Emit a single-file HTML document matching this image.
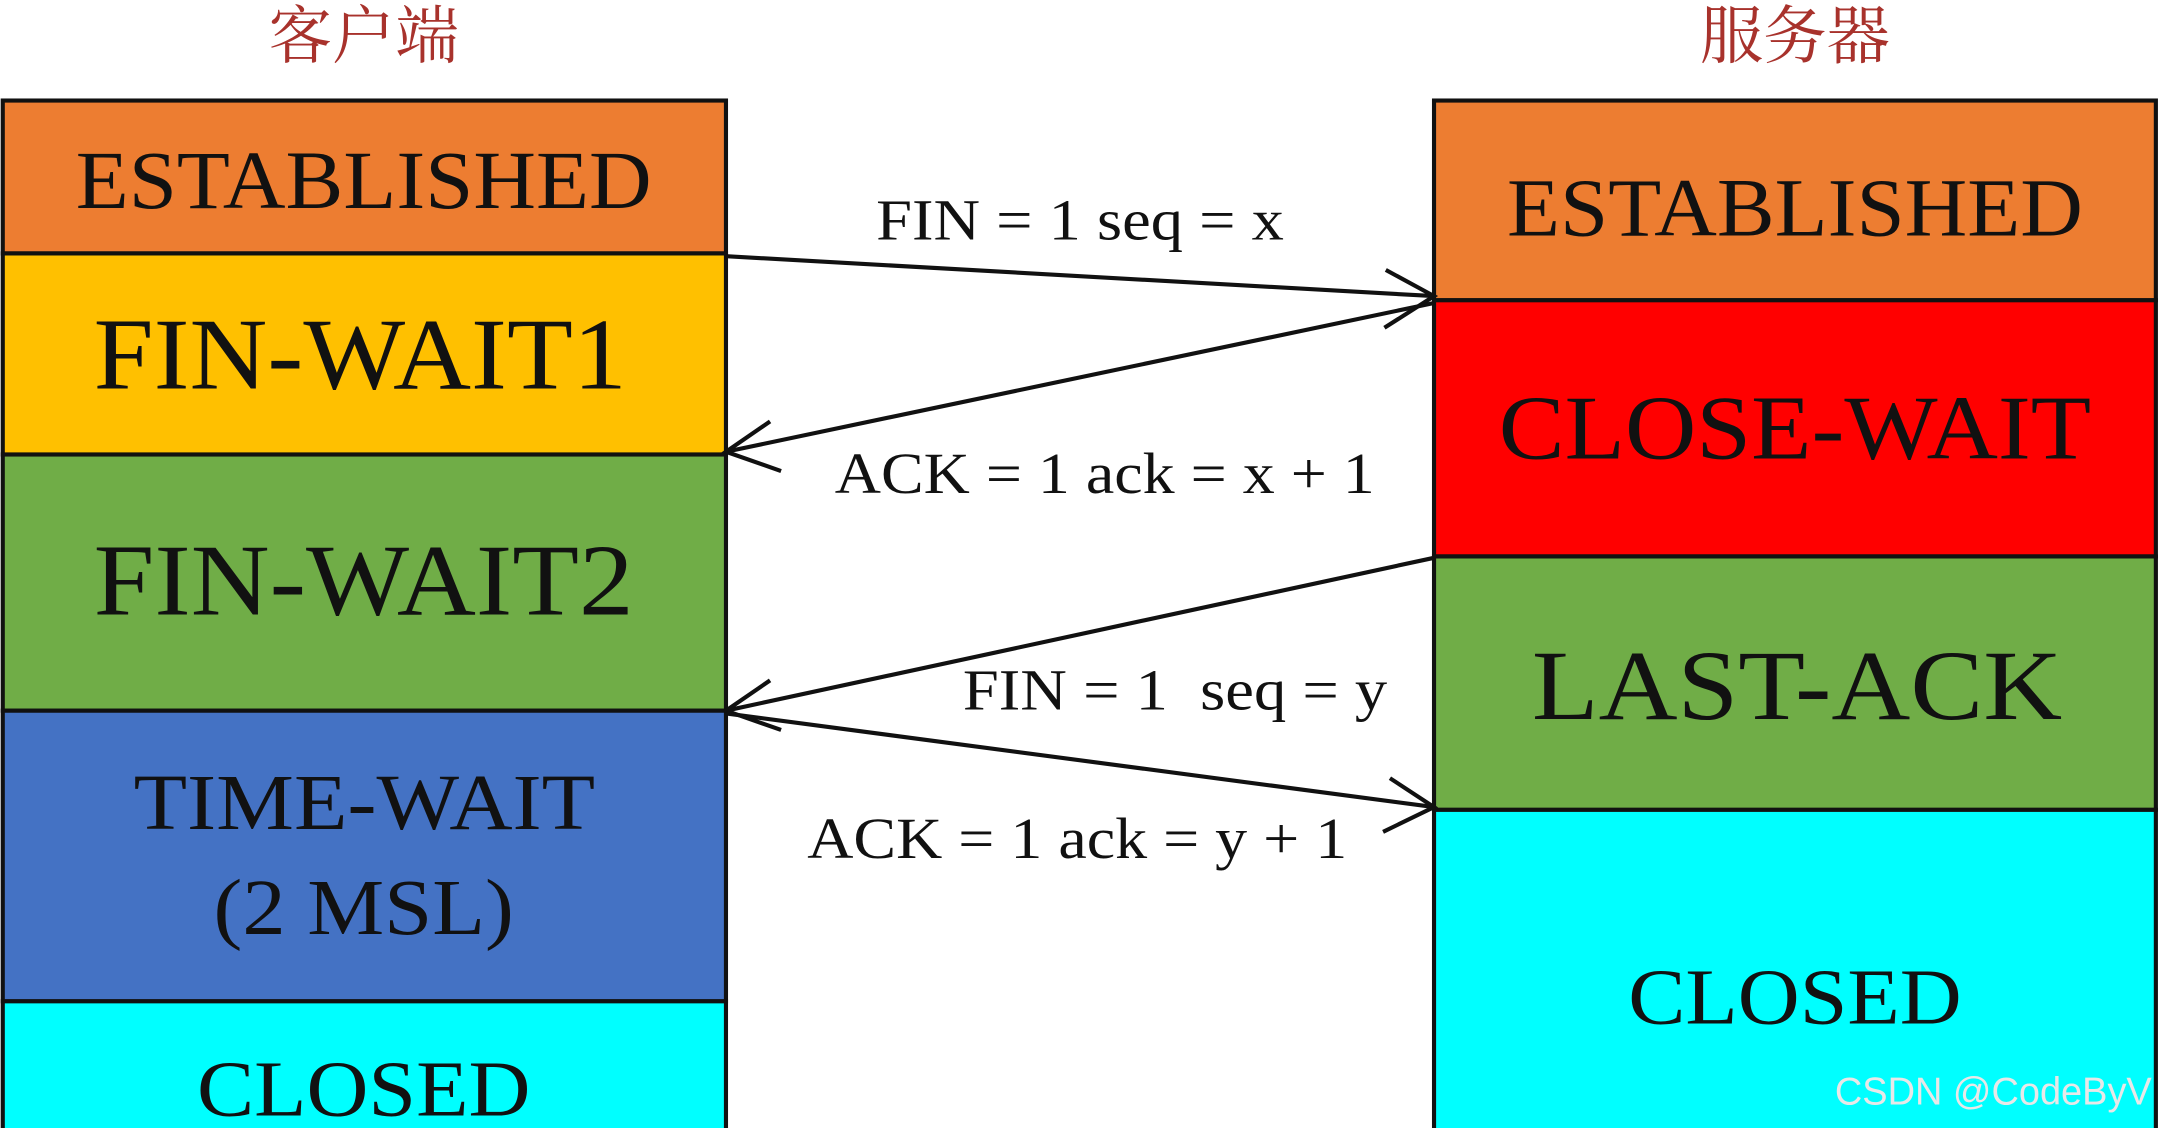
<!DOCTYPE html>
<html><head><meta charset="utf-8"><style>
html,body{margin:0;padding:0;background:#fff;width:2160px;height:1128px;overflow:hidden}
svg{display:block}
.s{font-family:"Liberation Serif",serif;fill:#111}
.t{font-family:"Liberation Serif","Noto Serif CJK SC",serif;fill:#a8322c}
</style></head><body>
<svg width="2160" height="1128" viewBox="0 0 1568 819" preserveAspectRatio="none" xmlns="http://www.w3.org/2000/svg">
<text class="t" x="264" y="42" font-size="46" text-anchor="middle">客户端</text>
<text class="t" x="1303" y="42" font-size="46" text-anchor="middle">服务器</text>
<g stroke="#111" stroke-width="3">
<rect x="2" y="73" width="525" height="111" fill="#ed7d31"/>
<rect x="2" y="184" width="525" height="146" fill="#ffc000"/>
<rect x="2" y="330" width="525" height="186" fill="#70ad47"/>
<rect x="2" y="516" width="525" height="211" fill="#4472c4"/>
<rect x="2" y="727" width="525" height="100" fill="#00ffff"/>
<rect x="1041" y="73" width="524" height="145" fill="#ed7d31"/>
<rect x="1041" y="218" width="524" height="186" fill="#ff0000"/>
<rect x="1041" y="404" width="524" height="184" fill="#70ad47"/>
<rect x="1041" y="588" width="524" height="240" fill="#00ffff"/>
</g>
<g class="s">
<text x="55" y="151" font-size="60" textLength="418" lengthAdjust="spacingAndGlyphs">ESTABLISHED</text>
<text x="68" y="282" font-size="74" textLength="387" lengthAdjust="spacingAndGlyphs">FIN-WAIT1</text>
<text x="68" y="446" font-size="74" textLength="392" lengthAdjust="spacingAndGlyphs">FIN-WAIT2</text>
<text x="97" y="602" font-size="58" textLength="335" lengthAdjust="spacingAndGlyphs">TIME-WAIT</text>
<text x="155" y="678" font-size="58" textLength="218" lengthAdjust="spacingAndGlyphs">(2 MSL)</text>
<text x="143" y="810" font-size="58" textLength="242" lengthAdjust="spacingAndGlyphs">CLOSED</text>
<text x="1094" y="171" font-size="60" textLength="418" lengthAdjust="spacingAndGlyphs">ESTABLISHED</text>
<text x="1088" y="333" font-size="66" textLength="430" lengthAdjust="spacingAndGlyphs">CLOSE-WAIT</text>
<text x="1112" y="522" font-size="72" textLength="385" lengthAdjust="spacingAndGlyphs">LAST-ACK</text>
<text x="1182" y="743" font-size="58" textLength="242" lengthAdjust="spacingAndGlyphs">CLOSED</text>
<text x="636" y="174" font-size="42" textLength="296" lengthAdjust="spacingAndGlyphs">FIN = 1 seq = x</text>
<text x="606" y="358" font-size="42" textLength="392" lengthAdjust="spacingAndGlyphs">ACK = 1 ack = x + 1</text>
<text x="699" y="515" font-size="42" textLength="308" lengthAdjust="spacingAndGlyphs" xml:space="preserve">FIN = 1  seq = y</text>
<text x="586" y="623" font-size="42" textLength="392" lengthAdjust="spacingAndGlyphs">ACK = 1 ack = y + 1</text>
</g>
<g stroke="#111" stroke-width="3" fill="none">
<line x1="527" y1="186" x2="1041" y2="215"/>
<polyline points="1006,196 1041,215 1005,238"/>
<line x1="1041" y1="220" x2="527" y2="328"/>
<polyline points="559,306 527,328 567,342"/>
<line x1="1041" y1="405" x2="527" y2="516"/>
<polyline points="559,494 527,516 567,530"/>
<line x1="527" y1="518" x2="1041" y2="586"/>
<polyline points="1009,565 1041,586 1004,604"/>
</g>
<text x="1332" y="802" font-family="Liberation Sans,sans-serif" font-size="28" fill="#e8e8e8" textLength="230" lengthAdjust="spacingAndGlyphs">CSDN @CodeByV</text>
</svg>
</body></html>
